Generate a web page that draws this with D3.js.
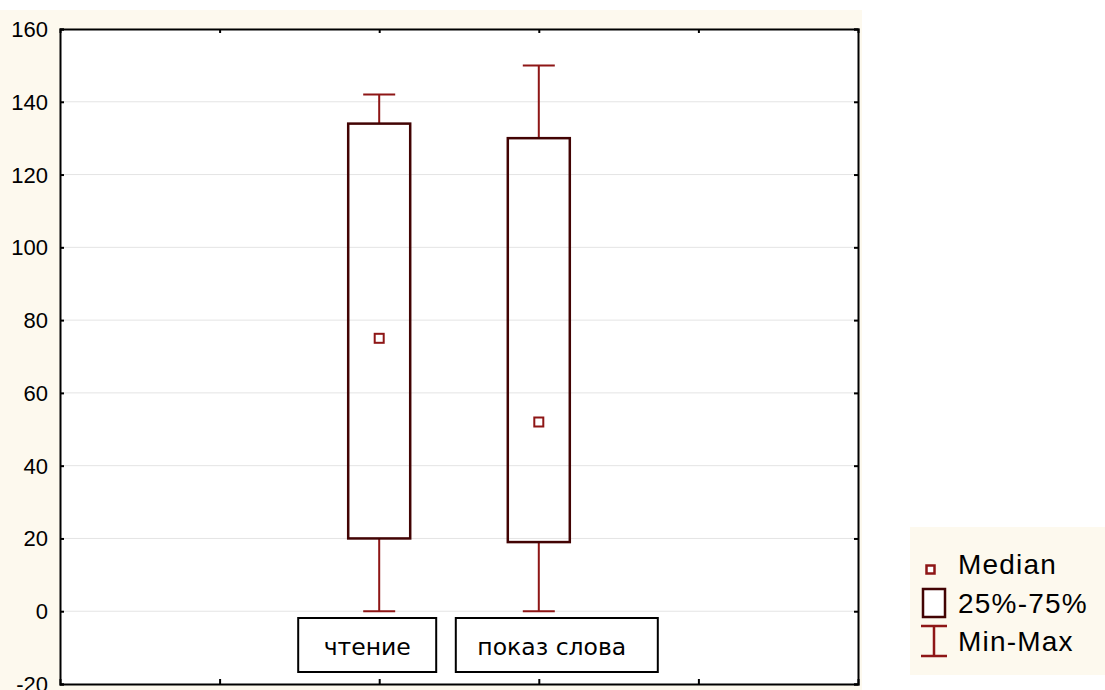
<!DOCTYPE html>
<html>
<head>
<meta charset="utf-8">
<script src="https://cdn.jsdelivr.net/npm/d3@7"></script>
<style>
    body { margin: 0; background: #ffffff; }
    svg { display: block; }
</style>
</head>
<body>
<div id="chart"></div>
<script>
// values
const categories = ["чтение", "показ слова"];
const catPos = [2, 3];
const mins = [0, 0];
const q1s = [20, 19];
const medians = [75, 52];
const q3s = [134, 130];
const maxs = [142, 150];

const yTicks = [-20, 0, 20, 40, 60, 80, 100, 120, 140, 160];
const xTicks = [1, 2, 3, 4];
const legendLabels = ["Median", "25%-75%", "Min-Max"];

const data = categories.map((c, i) => ({
    name: c, pos: catPos[i], min: mins[i], q1: q1s[i], med: medians[i], q3: q3s[i], max: maxs[i]
}));

const width = 1105, height = 690;
const plot = {left: 60, right: 858, top: 29, bottom: 684};
const boxColor = "#420303";
const whiskColor = "#8e1616";
const cream = "#fdf9ee";

const svg = d3.select("#chart")
    .append("svg")
    .attr("width", width)
    .attr("height", height);

// backgrounds
svg.append("rect")
    .attr("x", 0).attr("y", 10)
    .attr("width", 862).attr("height", height - 10)
    .style("fill", cream);
svg.append("rect")
    .attr("x", 910).attr("y", 527)
    .attr("width", width - 910).attr("height", 148)
    .style("fill", cream);

const x = d3.scaleLinear().domain([0, 5]).range([plot.left, plot.right]);
const y = d3.scaleLinear().domain([-20, 160]).range([plot.bottom, plot.top]);

svg.append("rect")
    .attr("x", plot.left).attr("y", plot.top)
    .attr("width", plot.right - plot.left).attr("height", plot.bottom - plot.top)
    .style("fill", "#ffffff");

// grid
svg.append("g").selectAll("line")
    .data(yTicks.filter(d => d > -20 && d < 160))
    .join("line")
    .attr("x1", plot.left).attr("x2", plot.right)
    .attr("y1", d => y(d)).attr("y2", d => y(d))
    .style("stroke", "#e4e4e4")
    .style("stroke-width", 1);

// axes
const axisFont = "'Liberation Sans', Arial, sans-serif";
const gLeft = svg.append("g")
    .attr("transform", `translate(${plot.left},0)`)
    .call(d3.axisLeft(y).tickValues(yTicks).tickSize(-4).tickPadding(12).tickFormat(d => String(d)));
const gRight = svg.append("g")
    .attr("transform", `translate(${plot.right},0)`)
    .call(d3.axisRight(y).tickValues(yTicks).tickSize(-4).tickFormat(""));
const gTop = svg.append("g")
    .attr("transform", `translate(0,${plot.top})`)
    .call(d3.axisTop(x).tickValues(xTicks).tickSize(-4).tickFormat(""));
const gBottom = svg.append("g")
    .attr("transform", `translate(0,${plot.bottom})`)
    .call(d3.axisBottom(x).tickValues(xTicks).tickSize(-5).tickFormat(""));

[gLeft, gRight, gTop, gBottom].forEach(g => {
    g.select(".domain").style("stroke", "#000").style("stroke-width", 2);
    g.selectAll(".tick line").style("stroke", "#000").style("stroke-width", 2);
});
gLeft.selectAll("text")
    .attr("dy", "0.34em")
    .style("font-family", axisFont)
    .style("font-size", "22px")
    .style("fill", "#000");

const marks = svg.append("g").attr("class", "marks");
const boxHalf = 31, capHalf = 16, medHalf = 4.5;

// whiskers
marks.selectAll(".whisk")
    .data(data)
    .join("path")
    .attr("class", "whisk")
    .attr("d", d => {
        const cx = x(d.pos);
        return `M${cx},${y(d.q3)}V${y(d.max)}M${cx - capHalf},${y(d.max)}H${cx + capHalf}` +
            `M${cx},${y(d.q1)}V${y(d.min)}M${cx - capHalf},${y(d.min)}H${cx + capHalf}`;
    })
    .style("fill", "none")
    .style("stroke", whiskColor)
    .style("stroke-width", 2);

// boxes
marks.selectAll(".box")
    .data(data)
    .join("rect")
    .attr("class", "box")
    .attr("x", d => x(d.pos) - boxHalf)
    .attr("y", d => y(d.q3))
    .attr("width", boxHalf * 2)
    .attr("height", d => y(d.q1) - y(d.q3))
    .style("fill", "none")
    .style("stroke", boxColor)
    .style("stroke-width", 2.5);

// medians
marks.selectAll(".med")
    .data(data)
    .join("rect")
    .attr("class", "med")
    .attr("x", d => x(d.pos) - medHalf)
    .attr("y", d => y(d.med) - medHalf)
    .attr("width", medHalf * 2)
    .attr("height", medHalf * 2)
    .style("fill", "#fff")
    .style("stroke", whiskColor)
    .style("stroke-width", 2);

// category labels in framed boxes near the bottom (offsets from the category position)
const labelFont = "'DejaVu Sans', sans-serif";
const labelBox = [{l: -81, r: 57}, {l: -83, r: 119}];
const labels = svg.append("g").attr("class", "labels");
const lab = labels.selectAll("g")
    .data(data)
    .join("g");
lab.append("rect")
    .attr("x", (d, i) => x(d.pos) + labelBox[i].l)
    .attr("y", 618)
    .attr("width", (d, i) => labelBox[i].r - labelBox[i].l)
    .attr("height", 54)
    .style("fill", "#fff")
    .style("stroke", "#000")
    .style("stroke-width", 2);
lab.append("text")
    .attr("x", (d, i) => x(d.pos) + (labelBox[i].l + labelBox[i].r) / 2 - (i ? 5 : 0))
    .attr("y", 647)
    .attr("dy", "0.35em")
    .style("font-family", labelFont)
    .style("font-size", "23.5px")
    .style("text-anchor", "middle")
    .style("fill", "#000")
    .text(d => d.name);

// legend
const legend = svg.append("g").attr("transform", "translate(921,0)");
const legY = [564, 603, 641];
legend.append("rect")
    .attr("x", 5.5).attr("y", legY[0] + 1.5).attr("width", 8).attr("height", 8)
    .style("fill", "#fff").style("stroke", whiskColor).style("stroke-width", 2.5);
legend.append("rect")
    .attr("x", 2).attr("y", legY[1] - 14).attr("width", 22).attr("height", 28)
    .style("fill", "#fff").style("stroke", boxColor).style("stroke-width", 2.5);
legend.append("path")
    .attr("d", `M0,${legY[2] - 15}H26M13,${legY[2] - 15}V${legY[2] + 15}M0,${legY[2] + 15}H26`)
    .style("fill", "none").style("stroke", whiskColor).style("stroke-width", 2.5);
legend.selectAll(".legtxt")
    .data(legendLabels)
    .join("text")
    .attr("class", "legtxt")
    .attr("x", 37)
    .attr("y", (d, i) => legY[i])
    .attr("dy", "0.36em")
    .style("font-family", axisFont)
    .style("font-size", "28px")
    .style("letter-spacing", "1.2px")
    .style("fill", "#000")
    .text(d => d);
</script>
</body>
</html>
